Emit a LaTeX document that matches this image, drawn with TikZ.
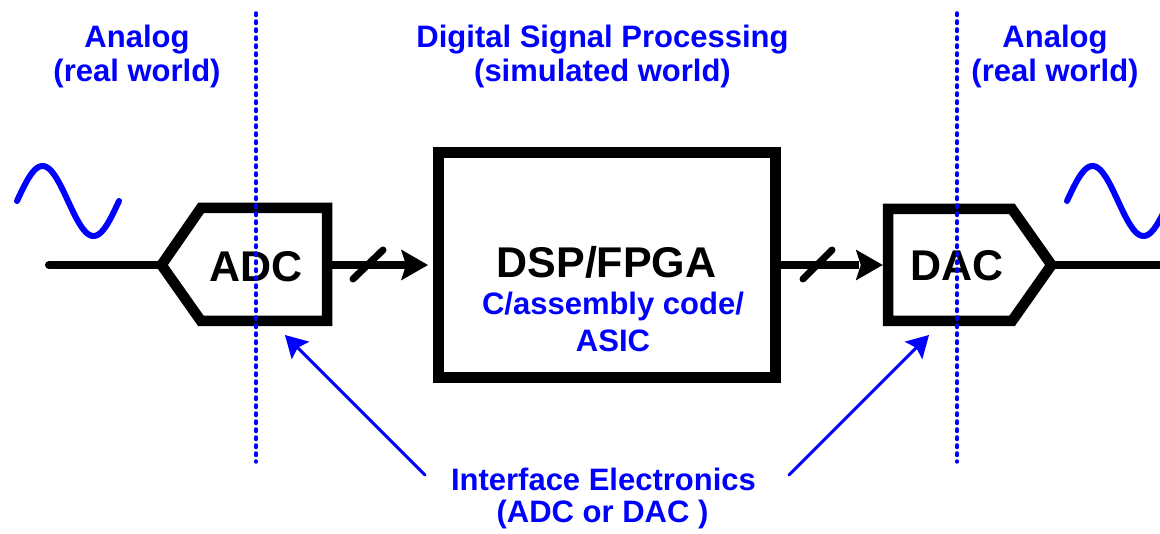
\documentclass[tikz,border=0pt]{standalone}
\usepackage{fontspec}
\setmainfont{Liberation Sans}
\usetikzlibrary{calc}
\definecolor{sigblue}{RGB}{0,0,255}
\tikzset{
  block/.style={draw=black, line width=10.5pt, line join=miter, miter limit=10, fill=white},
  wire/.style={draw=black, line width=8pt},
  bus/.style={wire, shorten >=24pt},
  busmark/.style={draw=black, line width=7pt, line cap=round},
  boundary/.style={draw=sigblue, line width=3.5pt, line cap=round, dash pattern=on 2.5pt off 5.5pt},
  note/.style={text=sigblue, font=\bfseries\fontsize{31}{34}\selectfont, inner sep=0pt, anchor=base},
  big/.style={font=\bfseries\fontsize{43}{48}\selectfont, inner sep=0pt, anchor=base},
  pointer/.style={draw=sigblue, line width=3pt, line cap=round, shorten >=16pt},
  wave/.style={draw=sigblue, line width=6pt, line cap=round},
  bushead/.pic={\fill[black] (0,0) -- (-27,-15.5) -- (-22,0) -- (-27,15.5) -- cycle;},
  ptrhead/.pic={\fill[sigblue] (0,0) -- (-22,-12.5) -- (-18,0) -- (-22,12.5) -- cycle;},
}
\begin{document}
\begin{tikzpicture}[x=1pt,y=-1pt]
\useasboundingbox (0,0) rectangle (1160,534);

% analog sine waves
\draw[wave] plot[domain=0:360, samples=80, variable=\t] ({17+\t/360*102},{201-35*sin(\t)});
\begin{scope}
  \clip (0,0) rectangle (1160,534);
  \draw[wave] plot[domain=0:340, samples=80, variable=\t] ({1067+\t/360*102},{201-35*sin(\t)});
\end{scope}

% key points of the converters
\coordinate (adcTip) at (161.5,265);
\coordinate (adcOut) at (327,265);
\coordinate (dacIn)  at (888,265);
\coordinate (dacTip) at (1051.5,265);
\coordinate (srcIn)  at (49,265);
\coordinate (sinkOut) at (1162,265);

% analog wires
\draw[wire, line cap=round] (srcIn) -- (adcTip);
\draw[wire] (dacTip) -- (sinkOut);

% ADC outline
\draw[block] (adcTip) -- (201,208) -- (327,208) -- (327,321) -- (201,321) -- cycle;
\node[big] (adc) at (256,282) {ADC};

% DAC outline
\draw[block] (888,209) -- (1012,209) -- (dacTip) -- (1012,321) -- (888,321) -- cycle;
\node[big] (dac) at (957,281) {DAC};

% processor
\node[block, minimum width=337pt, minimum height=225pt, inner sep=0pt] (dsp) at (607,265) {};
\node[big] (dspname) at (606.5,278) {DSP/FPGA};
\node[note] (code) at (613,315) {C/assembly code/};
\node[note] (asic) at (613,352) {ASIC};

% digital buses
\draw[bus] (adcOut) -- (dsp.west);
\pic at ([xshift=-5.25pt]dsp.west) {bushead};
\draw[busmark] (353,279) -- (383,250);
\draw[bus] (dsp.east) -- ([xshift=-5.25pt]dacIn);
\pic at ([xshift=-5.25pt]dacIn) {bushead};
\draw[busmark] (803,279) -- (832,250);

% headings
\node[note] (anL1) at (137,48) {Analog};
\node[note] (anL2) at (137,82) {(real world)};
\node[note] (dg1) at (602.5,48) {Digital Signal Processing};
\node[note] (dg2) at (602.5,82) {(simulated world)};
\node[note] (anR1) at (1055,48) {Analog};
\node[note] (anR2) at (1055,82) {(real world)};

% interface electronics callout
\node[note] (if1) at (603.5,491) {Interface Electronics};
\node[note] (if2) at (602.5,522) {(ADC or DAC )};
\coordinate (ifL) at (425,475);
\coordinate (ifR) at (789,475);
\coordinate (adcMark) at (285,335);
\coordinate (dacMark) at (929,335);
\draw[pointer] (ifL) -- (adcMark);
\pic[rotate=135] at (adcMark) {ptrhead};
\draw[pointer] (ifR) -- (dacMark);
\pic[rotate=45] at (dacMark) {ptrhead};

% analog / digital boundaries
\coordinate (bL1) at (256,13);
\coordinate (bL2) at (256,462);
\coordinate (bR1) at (957,13);
\coordinate (bR2) at (957,462);
\draw[boundary] (bL1) -- (bL2);
\draw[boundary] (bR1) -- (bR2);
\end{tikzpicture}
\end{document}
